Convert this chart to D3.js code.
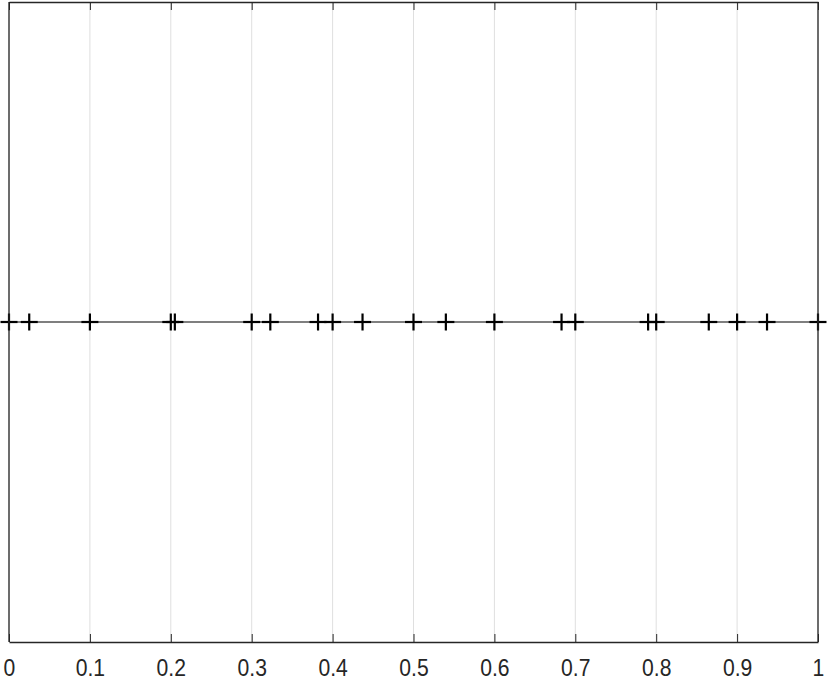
<!DOCTYPE html>
<html><head><meta charset="utf-8">
<script src="https://cdn.jsdelivr.net/npm/d3@7"></script>
<style>body{margin:0;background:#fff}svg{display:block}</style>
</head><body>
<script>
const xValues = [0, 0.025, 0.1, 0.2, 0.205, 0.3, 0.323, 0.382, 0.4, 0.437, 0.5, 0.54, 0.6, 0.683, 0.7, 0.79, 0.8, 0.865, 0.9, 0.937, 1];
const yValues = xValues.map(() => 0);
const xTicks = [0, 0.1, 0.2, 0.3, 0.4, 0.5, 0.6, 0.7, 0.8, 0.9, 1];
const xTickLabels = ["0", "0.1", "0.2", "0.3", "0.4", "0.5", "0.6", "0.7", "0.8", "0.9", "1"];

(function () {
const W = 830, H = 681;
const m = {left: 9, right: 12, top: 2, bottom: 39};
const svg = d3.select("body").append("svg").attr("width", W).attr("height", H);
const x = d3.scaleLinear().domain([0, 1]).range([m.left, W - m.right]);
const y = d3.scaleLinear().domain([-1, 1]).range([H - m.bottom, m.top]);
const axisColor = "#262626";

// grid
svg.append("g").selectAll("line").data(xTicks).join("line")
  .attr("x1", d => x(d)).attr("x2", d => x(d))
  .attr("y1", m.top).attr("y2", H - m.bottom)
  .attr("stroke", "#dfdfdf").attr("stroke-width", 1);

// line
svg.append("path").datum(xValues.map((v, i) => [v, yValues[i]]))
  .attr("fill", "none").attr("stroke", "#000").attr("stroke-width", 1.2)
  .attr("d", d3.line().x(d => x(d[0])).y(d => y(d[1])));

// markers
const ms = 8.5;
const mk = svg.append("g").selectAll("g").data(xValues).join("g")
  .attr("transform", (d, i) => `translate(${x(d)},${y(yValues[i])})`);
mk.append("line").attr("x1", -ms).attr("x2", ms).attr("y1", 0).attr("y2", 0)
  .attr("stroke", "#000").attr("stroke-width", 2.2);
mk.append("line").attr("x1", 0).attr("x2", 0).attr("y1", -ms).attr("y2", ms)
  .attr("stroke", "#000").attr("stroke-width", 2.2);

// axes
const gBottom = svg.append("g").attr("transform", `translate(0,${H - m.bottom})`)
  .call(d3.axisBottom(x).tickValues(xTicks).tickFormat((d, i) => xTickLabels[i]).tickSizeInner(-8).tickSizeOuter(0).tickPadding(17.5));
const gTop = svg.append("g").attr("transform", `translate(0,${m.top})`)
  .call(d3.axisTop(x).tickValues(xTicks).tickFormat("").tickSizeInner(-8).tickSizeOuter(0));
[gBottom, gTop].forEach(g => {
  g.select(".domain").attr("stroke", axisColor).attr("stroke-width", 1.3);
  g.selectAll(".tick line").attr("stroke", axisColor).attr("stroke-width", 1);
});
gBottom.selectAll(".tick text").attr("fill", axisColor)
  .attr("transform", "scale(0.92,1)")
  .style("font-family", "'Liberation Sans', Arial, sans-serif").style("font-size", "23px");

svg.append("line").attr("x1", x(0)).attr("x2", x(0)).attr("y1", m.top).attr("y2", H - m.bottom)
  .attr("stroke", axisColor).attr("stroke-width", 1.3);
svg.append("line").attr("x1", x(1)).attr("x2", x(1)).attr("y1", m.top).attr("y2", H - m.bottom)
  .attr("stroke", axisColor).attr("stroke-width", 1.3);
})();
</script>
</body></html>
